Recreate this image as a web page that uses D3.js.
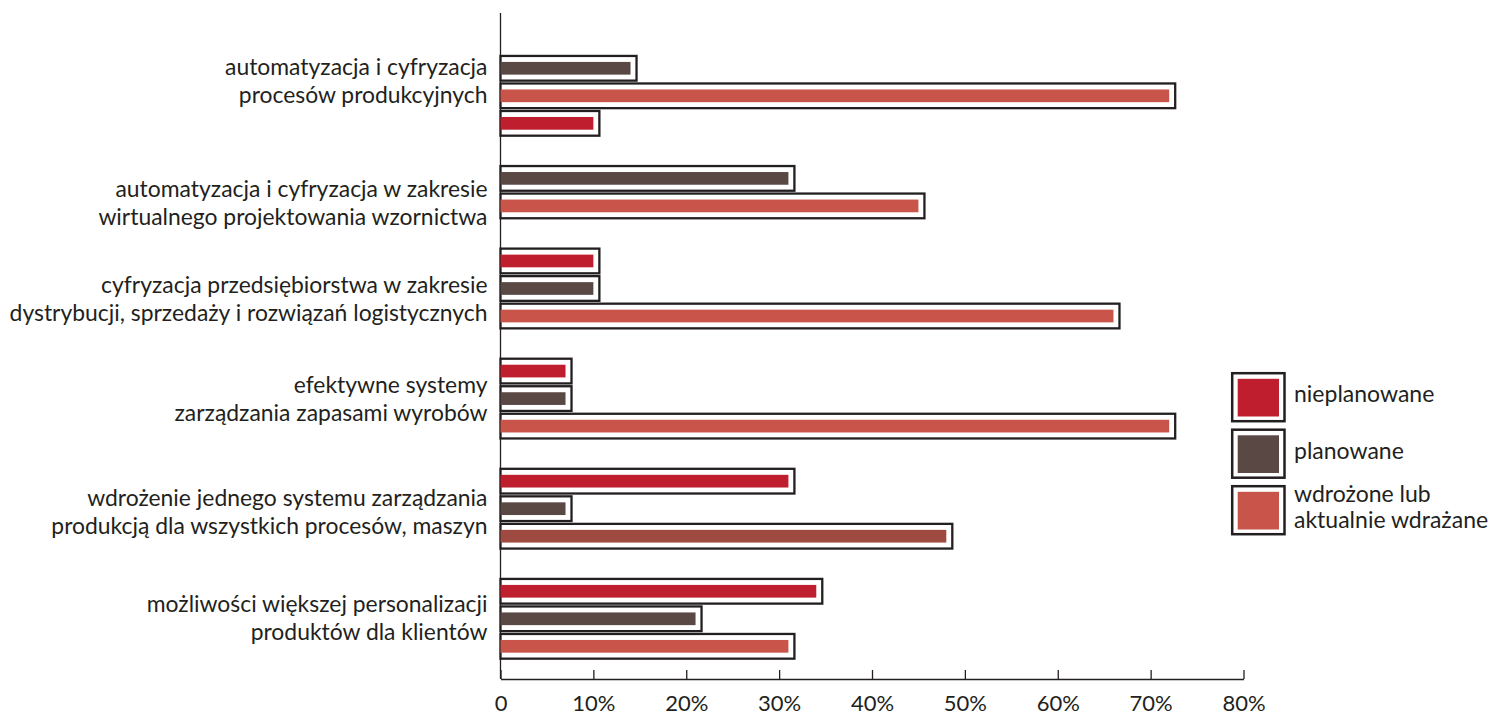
<!DOCTYPE html>
<html lang="pl">
<head>
<meta charset="utf-8">
<script src="https://cdn.jsdelivr.net/npm/d3@7"></script>
<style>
  html, body { margin: 0; padding: 0; background: #ffffff; }
  svg { display: block; font-family: Lato, "Open Sans", sans-serif; }
</style>
</head>
<body>
<svg id="chart" width="1491" height="713"></svg>
<script>
// Category labels (two lines each)
const categoryLines = [
  ["automatyzacja i cyfryzacja", "procesów produkcyjnych"],
  ["automatyzacja i cyfryzacja w zakresie", "wirtualnego projektowania wzornictwa"],
  ["cyfryzacja przedsiębiorstwa w zakresie", "dystrybucji, sprzedaży i rozwiązań logistycznych"],
  ["efektywne systemy", "zarządzania zapasami wyrobów"],
  ["wdrożenie jednego systemu zarządzania", "produkcją dla wszystkich procesów, maszyn"],
  ["możliwości większej personalizacji", "produktów dla klientów"]
];

// Series names (legend)
const seriesNames = ["nieplanowane", "planowane", ["wdrożone lub", "aktualnie wdrażane"]];

// Values in percent, one array per series
const nieplanowane = [10, 0, 10, 7, 31, 34];
const planowane    = [14, 31, 10, 7, 7, 21];
const wdrozone     = [72, 45, 66, 72, 48, 31];

// Axis ticks
const tickValues = [0, 10, 20, 30, 40, 50, 60, 70, 80];
const tickLabels = ["0", "10%", "20%", "30%", "40%", "50%", "60%", "70%", "80%"];

// ---- layout & style ----
const seriesValues = [nieplanowane, planowane, wdrozone];
const colors = ["#be1e2d", "#5a4845", "#c8544a"];
const accentFill = "#9e4a40";              // the 48% bar is printed in a deeper tone
const accent = { cat: 4, series: 2 };
const ink = "#231f20";

// row (of 4) each series occupies within a category block
const rowOfSeries = [[3, 1, 2], [0, 1, 2], [0, 1, 2], [0, 1, 2], [0, 1, 2], [0, 1, 2]];
// vertical anchor of each two-line label, in rows
const labelRow = [1.5, 1.92, 1.43, 1.06, 1.16, 1.0];

const svg = d3.select("#chart");

const x = d3.scaleLinear().domain([0, 80]).range([500.5, 1243.5]);
const yCat = d3.scaleBand().domain(d3.range(categoryLines.length)).range([27, 687.6]);
const yRow = d3.scaleBand().domain(d3.range(4)).range([0, yCat.bandwidth()]);
const barH = 12.7;

const bars = [];
seriesValues.forEach((vals, s) => {
  vals.forEach((v, c) => {
    if (v > 0) bars.push({ c, s, v, cy: yCat(c) + yRow(rowOfSeries[c][s]) + yRow.bandwidth() / 2 });
  });
});

// y axis line
svg.append("line")
  .attr("x1", x(0)).attr("x2", x(0))
  .attr("y1", 13).attr("y2", 679)
  .attr("stroke", ink).attr("stroke-width", 1.3);

// framed bars: outline box, then the fill bar
const g = svg.append("g");
g.selectAll("rect.frame").data(bars).join("rect")
  .attr("class", "frame")
  .attr("x", x(0))
  .attr("y", d => d.cy - barH / 2 - 6)
  .attr("width", d => x(d.v) - x(0) + 6)
  .attr("height", barH + 12)
  .attr("fill", "#ffffff")
  .attr("stroke", ink)
  .attr("stroke-width", 2.3);

g.selectAll("rect.bar").data(bars).join("rect")
  .attr("class", "bar")
  .attr("x", x(0))
  .attr("y", d => d.cy - barH / 2)
  .attr("width", d => x(d.v) - x(0))
  .attr("height", barH)
  .attr("fill", d => (d.c === accent.cat && d.s === accent.series) ? accentFill : colors[d.s]);

// x axis
const xAxis = d3.axisBottom(x)
  .tickValues(tickValues)
  .tickFormat((d, i) => tickLabels[i])
  .tickSizeInner(-9)
  .tickSizeOuter(0)
  .tickPadding(16);

const ax = svg.append("g").attr("transform", "translate(0,679)").call(xAxis);
ax.select(".domain").attr("stroke", ink).attr("stroke-width", 1.3);
ax.selectAll(".tick line").attr("stroke", ink).attr("stroke-width", 1.3);
ax.selectAll(".tick text")
  .attr("fill", ink)
  .style("font-family", "Lato, sans-serif")
  .style("font-size", "22px");

// category labels
const labels = svg.append("g")
  .attr("font-size", 22.9)
  .attr("fill", ink)
  .attr("text-anchor", "end");
categoryLines.forEach((lines, c) => {
  const cy = yCat(c) + yRow.step() * (labelRow[c] + 0.5);
  const t = labels.append("text").attr("x", 487.5);
  lines.forEach((line, i) => {
    t.append("tspan").attr("x", 487.5).attr("y", cy - 7 + i * 28).text(line);
  });
});

// legend
const legend = svg.append("g").attr("transform", "translate(1231,372)");
const legendStep = 56.5;
seriesNames.forEach((name, i) => {
  const gy = i * legendStep;
  legend.append("rect")
    .attr("x", 1.2).attr("y", gy + 1.2)
    .attr("width", 52.3).attr("height", 48)
    .attr("fill", "#ffffff").attr("stroke", ink).attr("stroke-width", 2.5);
  legend.append("rect")
    .attr("x", 6.7).attr("y", gy + 6.8)
    .attr("width", 41.3).attr("height", 37.7)
    .attr("fill", colors[i]);
  const lines = Array.isArray(name) ? name : [name];
  const mid = gy + 25;
  const t = legend.append("text").attr("font-size", 23).attr("fill", ink);
  lines.forEach((line, k) => {
    const base = mid + 5 + (k - (lines.length - 1) / 2) * 26.7;
    t.append("tspan").attr("x", 63).attr("y", base).text(line);
  });
});
</script>
</body>
</html>
